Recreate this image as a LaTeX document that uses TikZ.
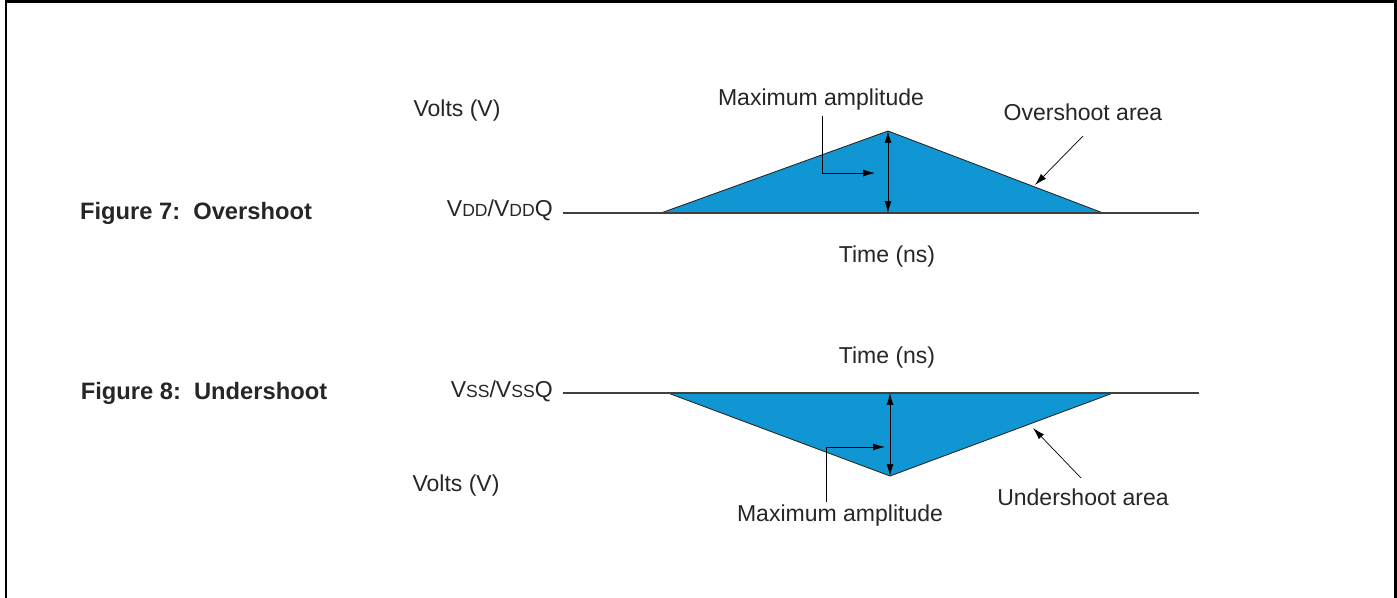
\documentclass[tikz,border=0pt]{standalone}
\usepackage{fontspec}
\setmainfont{Liberation Sans}
\usetikzlibrary{arrows.meta}
\definecolor{shootblue}{RGB}{17,150,212}
\newcommand{\sml}[1]{{\fontsize{10}{10}\selectfont #1}}

\begin{document}
\begin{tikzpicture}[x=0.02cm, y=-0.02cm, font=\fontsize{13.1}{15}\selectfont,
    lbl/.style={inner sep=0pt, text=black!85},
    bold/.style={lbl, font=\fontsize{13.5}{15}\selectfont\bfseries},
    tip/.style={-{Latex[length=2.4mm, width=1.4mm]}},
    amp/.style={{Latex[length=2.4mm, width=1.4mm]}-{Latex[length=2.4mm, width=1.4mm]}},
    rail/.style={line width=0.6pt, black!75},
    area/.style={fill=shootblue, draw=black!85, line width=0.5pt}]
    \clip (0,0) rectangle (1397,598);
    \draw[line width=1.6pt] (6,1.5) rectangle (1395.5,640);

    % Figure 7: overshoot
    \node[bold] (fig7) at (196,213) {Figure 7:\ \ Overshoot};
    \node[lbl] (volts7) at (457,111) {Volts (V)};
    \node[lbl, anchor=east] (vdd) at (553,210) {V\sml{DD}/V\sml{DD}Q};
    \node[lbl] (time7) at (887,257) {Time (ns)};
    \node[lbl] (max7) at (821,100) {Maximum amplitude};
    \node[lbl] (over) at (1083,112) {Overshoot area};
    \coordinate (o1) at (661,213);
    \coordinate (otop) at (888,131);
    \coordinate (o2) at (1103,213);
    \coordinate (obase) at (888,213);
    \draw[area] (o1) -- (otop) -- (o2);
    \draw[rail] (563,213) -- (1199,213);
    \draw[amp] (otop) -- (obase);
    \draw[tip] (822,116) |- (875,173);
    \draw[tip] (1083,136) -- (1035,185);

    % Figure 8: undershoot
    \node[bold] (fig8) at (204,393) {Figure 8:\ \ Undershoot};
    \node[lbl] (volts8) at (456,486) {Volts (V)};
    \node[lbl, anchor=east] (vss) at (553,391) {V\sml{SS}/V\sml{SS}Q};
    \node[lbl] (time8) at (887,358) {Time (ns)};
    \node[lbl] (max8) at (840,516) {Maximum amplitude};
    \node[lbl] (under) at (1083,497) {Undershoot area};
    \coordinate (u1) at (668,393);
    \coordinate (ubot) at (890,476);
    \coordinate (u2) at (1113,393);
    \coordinate (ubase) at (890,393);
    \draw[area] (u1) -- (ubot) -- (u2);
    \draw[rail] (563,393) -- (1199,393);
    \draw[amp] (ubase) -- (ubot);
    \draw[tip] (826,502) |- (885,447);
    \draw[tip] (1081,478) -- (1033,428);
\end{tikzpicture}
\end{document}
